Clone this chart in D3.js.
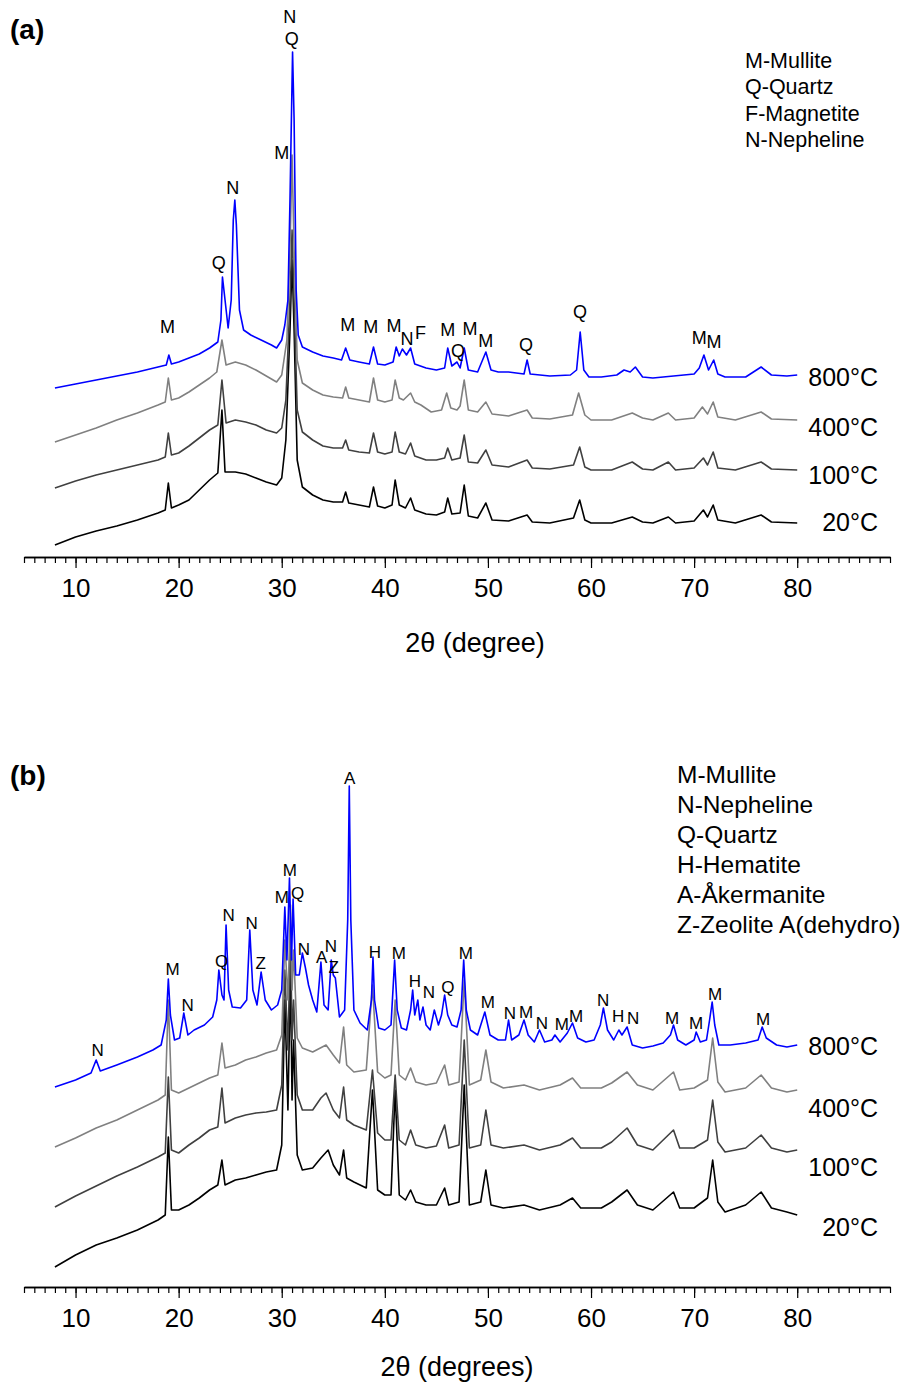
<!DOCTYPE html>
<html><head><meta charset="utf-8">
<script src="https://cdn.jsdelivr.net/npm/d3@7"></script>
<style>
body{margin:0;background:#fff}
svg{display:block}
text{font-family:"Liberation Sans",Arial,Helvetica,sans-serif;fill:#000}
</style>
</head><body>
<svg id="chart" width="906" height="1385"></svg>
<script>
// ---------------- DATA ----------------
const temperatures = ["800°C", "400°C", "100°C", "20°C"];
const seriesColors = ["#0000ff", "#808080", "#404040", "#000000"];
const xTickLabels = [10, 20, 30, 40, 50, 60, 70, 80];
const xDomain = [5, 89];

// Panel (a): [2θ, intensity a.u.]
const a800 = [[8,169],[10,173],[12,177],[14,181],[16,185],[18,190],[18.8,192],[19.05,202],[19.3,193],[20,195],[21,199],[22,203],[23,209],[23.8,215],[24.1,237],[24.25,280],[24.5,257],[24.8,229],[25.1,257],[25.3,337],[25.45,357],[25.6,332],[25.9,247],[26.3,227],[27,222],[28,217],[29,212],[29.5,209],[30,217],[30.3,232],[30.6,257],[30.8,357],[31.05,505],[31.2,437],[31.4,267],[31.6,222],[32,210],[33,205],[34,201],[35,199],[35.8,197],[36.2,209],[36.6,197],[37.5,195],[38.5,193],[38.9,210],[39.3,193],[40,192],[40.8,195],[41.1,210],[41.4,201],[41.7,208],[42.1,202],[42.5,209],[42.9,193],[44,189],[45,187],[45.8,189],[46.1,209],[46.5,191],[47,195],[47.3,189],[47.7,209],[48.1,187],[49,185],[49.8,205],[50.3,187],[51,185],[52,185],[53.5,183],[53.8,197],[54.1,183],[56,181],[58,182],[58.6,187],[58.95,225],[59.3,187],[59.8,180],[61,180],[62.5,182],[63.2,187],[63.8,185],[64.3,190],[65,180],[66,179],[68,181],[70,183],[70.5,189],[70.95,202],[71.4,187],[71.9,197],[72.3,183],[73,180],[75,180],[76.5,190],[77.5,182],[79,181],[80,182]];
const a400 = [[8,115],[10,122],[12,129],[14,137],[16,144],[18,152],[18.7,155],[19.0,179],[19.3,157],[20,159],[21,165],[22,172],[23,179],[23.7,185],[24.2,217],[24.6,192],[25.5,195],[26.5,192],[27.5,187],[28.5,181],[29.5,175],[30,182],[30.5,217],[30.8,307],[31.0,402],[31.2,307],[31.5,197],[32,174],[33,167],[34,162],[35,160],[35.9,159],[36.2,170],[36.5,159],[37.5,157],[38.5,155],[38.9,179],[39.3,157],[40,155],[40.7,157],[41.0,177],[41.4,159],[41.8,157],[42.5,164],[42.9,155],[43.5,152],[44.5,145],[45.5,147],[46,164],[46.4,149],[47,147],[47.3,151],[47.7,177],[48.1,147],[49,145],[49.8,155],[50.4,143],[52,141],[53.8,147],[54.3,139],[56,138],[58.2,142],[58.8,164],[59.4,142],[60,137],[62,137],[64,144],[65,139],[66,137],[67.5,144],[68.2,137],[70,139],[70.8,150],[71.3,143],[71.85,155],[72.3,140],[74,137],[76.5,145],[77.5,138],[80,137]];
const a100 = [[8,69],[10,76],[12,82],[14,87],[16,92],[18,97],[18.7,100],[19.0,124],[19.3,102],[20,104],[21,111],[22,119],[23,127],[23.8,132],[24.2,177],[24.6,134],[25.5,137],[26.5,135],[27.5,132],[28.5,127],[29.5,124],[30,129],[30.4,157],[30.8,257],[31.0,327],[31.2,257],[31.5,147],[32,125],[33,117],[34,111],[35,109],[35.9,109],[36.2,117],[36.5,107],[37.5,105],[38.5,104],[38.9,124],[39.3,105],[40,103],[40.7,105],[41.0,125],[41.4,105],[42,103],[42.5,114],[42.9,101],[44,97],[45,97],[45.8,99],[46.1,109],[46.5,97],[47.3,99],[47.7,122],[48.1,95],[49,94],[49.8,107],[50.4,92],[52,90],[53.8,97],[54.3,89],[56,88],[58.3,92],[58.9,110],[59.4,90],[60,87],[62,87],[64,95],[65,88],[66,87],[67.5,95],[68.2,87],[70,89],[70.9,99],[71.3,92],[71.85,105],[72.3,89],[74,87],[76.5,95],[77.5,88],[80,87]];
const a20 = [[8,12],[10,20],[12,26],[14,31],[16,37],[18,44],[18.7,47],[19.0,74],[19.3,49],[20,52],[21,57],[22,67],[23,77],[23.8,84],[24.2,147],[24.5,85],[25.5,85],[26.5,83],[27.5,79],[28.5,75],[29.5,72],[30,79],[30.4,117],[30.8,227],[31.0,297],[31.2,227],[31.5,97],[32,70],[33,62],[34,57],[35,55],[35.9,55],[36.2,65],[36.5,54],[37.5,52],[38.5,50],[38.9,70],[39.3,51],[40,49],[40.7,52],[41.0,77],[41.4,52],[42,49],[42.5,59],[42.9,47],[44,43],[45,42],[45.8,45],[46.1,59],[46.5,43],[47.3,44],[47.7,72],[48.1,41],[49,39],[49.8,54],[50.4,37],[52,36],[53.8,42],[54.3,35],[56,34],[58.3,39],[58.9,57],[59.4,37],[60,34],[62,34],[64,40],[65,35],[66,34],[67.5,40],[68.2,34],[70,36],[70.9,47],[71.3,40],[71.85,52],[72.3,37],[74,34],[76.5,42],[77.5,35],[80,34]];

// Panel (a) phase labels: [letter, 2θ, intensity]
const aPeakLabels = [["M",18.93,230],["Q",23.88,294],["N",25.24,369],["M",30.0,404],["N",30.78,540],["Q",30.97,518],["M",36.4,232],["M",38.64,230],["M",40.9,231],["N",42.15,218],["F",43.45,224],["M",46.1,227],["Q",47.09,206],["M",48.25,228],["M",49.8,216],["Q",53.69,212],["Q",58.93,245],["M",70.49,219],["M",71.94,215]];
const aLegend = ["M-Mullite", "Q-Quartz", "F-Magnetite", "N-Nepheline"];
const aTempLevels = [180, 130, 82, 35];

// Panel (b)
const b800 = [[8,213],[10,220],[11.5,227],[12,240],[12.4,229],[14,235],[16,243],[17.5,250],[18.3,255],[18.8,280],[19.0,321],[19.2,285],[19.6,260],[20.1,262],[20.5,287],[20.9,265],[21.5,270],[22.5,275],[23.3,283],[23.7,300],[23.9,330],[24.2,305],[24.4,300],[24.6,375],[24.85,310],[25.2,293],[26,292],[26.6,300],[26.9,370],[27.2,310],[27.6,295],[28.0,328],[28.4,300],[29,290],[29.6,295],[30.0,310],[30.3,393],[30.5,340],[30.75,422],[30.95,340],[31.1,401],[31.35,325],[31.7,325],[32.0,347],[32.3,332],[32.6,315],[33.0,300],[33.4,288],[33.8,338],[34.1,295],[34.5,290],[34.8,340],[35.0,325],[35.2,322],[35.6,283],[36.1,290],[36.4,380],[36.55,514],[36.7,380],[37.0,290],[37.6,277],[38.3,270],[38.7,300],[38.85,343],[39.0,300],[39.4,272],[40,270],[40.6,275],[40.95,340],[41.2,290],[41.6,272],[42.1,270],[42.5,290],[42.7,310],[42.9,285],[43.2,300],[43.4,280],[43.7,293],[44.0,275],[44.4,270],[44.8,290],[45.2,275],[45.5,285],[45.8,305],[46.1,285],[46.5,275],[47.0,273],[47.4,290],[47.65,340],[47.9,290],[48.3,270],[49,265],[49.7,288],[50.2,265],[51,260],[51.7,260],[52.0,280],[52.3,260],[53,265],[53.5,280],[53.9,265],[54.5,258],[55.0,270],[55.5,258],[56.2,260],[56.5,265],[57,258],[57.7,267],[58.2,277],[58.7,262],[59.5,258],[60.3,260],[60.9,275],[61.2,292],[61.6,270],[62.2,260],[62.7,270],[63.0,265],[63.5,273],[64.0,255],[65,252],[66,254],[67,257],[67.7,265],[68.0,275],[68.4,260],[69.2,255],[70.0,260],[70.2,268],[70.6,258],[71.2,260],[71.5,280],[71.75,298],[72.0,275],[72.4,255],[73.5,255],[75,257],[76.2,260],[76.6,273],[77.0,262],[78,255],[79,253],[80,255]];
const b400 = [[8,153],[10,162],[12,172],[14,180],[16,190],[18,200],[18.7,205],[19.0,300],[19.3,210],[20,207],[21,212],[22,217],[23,222],[23.8,225],[24.2,257],[24.5,232],[25.5,235],[26.5,240],[27.5,243],[28.5,247],[29.5,250],[30.0,265],[30.3,360],[30.6,300],[30.85,395],[31.0,310],[31.15,350],[31.5,262],[32,252],[33,248],[34.3,255],[35,245],[35.6,237],[36.0,273],[36.3,235],[37,228],[38.2,230],[38.8,315],[39.3,228],[40,222],[40.6,225],[41.0,300],[41.4,225],[42,220],[42.5,232],[43,218],[44,215],[45,217],[45.8,235],[46.2,215],[47.2,218],[47.7,320],[48.2,215],[49.3,220],[49.8,250],[50.3,218],[51.5,212],[53.5,215],[55,210],[57,215],[58.2,222],[59,212],[61,212],[62,217],[63.5,228],[64.5,215],[66,210],[68.0,228],[68.6,210],[70,212],[71.3,220],[71.8,262],[72.3,218],[73,208],[75,212],[76.5,225],[77.5,212],[79,208],[80,210]];
const b100 = [[8,93],[10,104],[12,114],[14,124],[16,133],[18,143],[18.7,147],[19.0,223],[19.3,150],[20,147],[21,155],[22,162],[23,170],[23.8,173],[24.2,212],[24.5,177],[25.5,182],[26.5,185],[27.5,187],[28.5,188],[29.5,190],[30.0,215],[30.3,330],[30.6,250],[30.85,370],[31.0,260],[31.15,300],[31.5,205],[32,190],[33,190],[33.8,202],[34.3,207],[35,190],[35.6,182],[36.0,213],[36.3,180],[37,175],[38.2,170],[38.8,230],[39.3,167],[40,160],[40.6,160],[41.0,225],[41.4,160],[42,155],[42.5,170],[43,155],[44,152],[45,154],[45.8,175],[46.2,152],[47.2,155],[47.7,260],[48.2,152],[49.3,155],[49.8,190],[50.3,155],[51.5,152],[53.5,155],[55,150],[57,155],[58.2,162],[59,152],[61,152],[62,158],[63.5,172],[64.5,155],[66,150],[68.0,170],[68.6,152],[70,152],[71.3,160],[71.8,200],[72.3,158],[73,148],[75,152],[76.5,165],[77.5,152],[79,148],[80,150]];
const b20 = [[8,33],[10,45],[12,55],[14,62],[16,70],[18,80],[18.7,85],[19.0,163],[19.3,90],[20,90],[21,95],[22,102],[23,110],[23.8,115],[24.2,140],[24.5,115],[25.5,120],[26.5,122],[27.5,125],[28.5,128],[29.5,130],[30.0,155],[30.3,300],[30.6,190],[30.85,330],[31.0,200],[31.15,260],[31.5,145],[32,130],[33,132],[33.8,142],[34.5,150],[35,135],[35.6,125],[36.0,150],[36.3,122],[37,118],[38.2,112],[38.8,210],[39.3,110],[40,105],[40.6,105],[41.0,210],[41.4,105],[42,100],[42.5,110],[43,98],[44,95],[45,95],[45.8,112],[46.2,95],[47.2,98],[47.7,215],[48.2,95],[49.3,98],[49.8,130],[50.3,95],[51.5,92],[53.5,95],[55,90],[57,95],[58.2,102],[59,92],[61,92],[62,98],[63.5,110],[64.5,95],[66,90],[68.0,108],[68.6,92],[70,92],[71.3,102],[71.8,140],[72.3,98],[73,88],[75,95],[76.5,108],[77.5,92],[79,88],[80,85]];

const bPeakLabels = [["N",12.14,250],["M",19.42,331],["N",20.87,295],["Q",24.17,339],["N",24.85,385],["N",27.09,377],["Z",27.96,337],["M",30.0,403],["M",30.78,430],["Q",31.55,407],["N",32.14,351],["A",33.88,343],["N",34.76,354],["Z",35.05,333],["A",36.6,522],["H",39.03,348],["M",41.36,347],["H",42.91,319],["N",44.27,308],["Q",46.12,313],["M",47.86,347],["M",50.0,298],["N",52.14,287],["M",53.69,288],["N",55.24,277],["M",57.18,276],["M",58.54,284],["N",61.17,300],["H",62.62,284],["N",64.08,282],["M",67.86,282],["M",70.19,277],["M",72.04,306],["M",76.7,281]];
const bLegend = ["M-Mullite", "N-Nepheline", "Q-Quartz", "H-Hematite", "A-Åkermanite", "Z-Zeolite A(dehydro)"];
const bTempLevels = [254, 192, 133, 73];

// ---------------- DRAW ----------------
const svg = d3.select("#chart");
const x = d3.scaleLinear().domain(xDomain).range([24, 890]);

function drawPanel(cfg) {
  const g = svg.append("g");
  const y = d3.scaleLinear().domain([0, 600]).range([cfg.zeroY, cfg.zeroY - 600]);
  const line = d3.line().x(d => x(d[0])).y(d => y(d[1]));

  // curves: draw bottom (20°C) first, blue on top
  cfg.series.map((s, i) => ({s, i})).reverse().forEach(({s, i}) => {
    g.append("path").datum(s)
      .attr("d", line)
      .attr("fill", "none")
      .attr("stroke", seriesColors[i])
      .attr("stroke-width", 1.6)
      .attr("stroke-linejoin", "round");
  });

  // peak letters
  g.selectAll("text.pk").data(cfg.peaks).join("text")
    .attr("class", "pk")
    .attr("x", d => x(d[1])).attr("y", d => y(d[2]))
    .attr("dy", "0.36em")
    .attr("text-anchor", "middle")
    .attr("font-size", cfg.peakFont)
    .text(d => d[0]);

  // temperature labels
  g.selectAll("text.tmp").data(temperatures).join("text")
    .attr("class", "tmp")
    .attr("x", 878).attr("y", (d, i) => y(cfg.tempLevels[i]))
    .attr("dy", "0.36em")
    .attr("text-anchor", "end")
    .attr("font-size", 25)
    .text(d => d);

  // legend
  g.selectAll("text.lg").data(cfg.legend).join("text")
    .attr("class", "lg")
    .attr("x", cfg.legendX).attr("y", (d, i) => cfg.legendY + i * cfg.legendStep)
    .attr("font-size", cfg.legendFont)
    .text(d => d);

  // panel tag
  g.append("text").attr("x", 10).attr("y", cfg.tagY)
    .attr("font-size", 28).attr("font-weight", "bold").text(cfg.tag);

  // axis: minor ticks each degree, major ticks with labels
  const minor = d3.axisBottom(x).tickValues(d3.range(5, 90, 1)).tickSize(6).tickSizeOuter(0).tickFormat("");
  const major = d3.axisBottom(x).tickValues(xTickLabels).tickSize(11).tickSizeOuter(0).tickPadding(11).tickFormat(d3.format("d"));
  const ga = g.append("g").attr("transform", `translate(0,${cfg.axisY})`);
  ga.append("g").call(minor);
  const gm = ga.append("g").call(major);
  ga.selectAll("path.domain").attr("stroke", "#000").attr("stroke-width", 1.4);
  ga.selectAll(".tick line").attr("stroke", "#000").attr("stroke-width", 1.2);
  gm.selectAll(".tick text").attr("font-size", 26).attr("font-family", "Liberation Sans, Arial, sans-serif").attr("fill", "#000");

  g.append("text").attr("x", cfg.titleX).attr("y", cfg.titleY)
    .attr("text-anchor", "middle").attr("font-size", 27)
    .text(cfg.title);
}

drawPanel({
  series: [a800, a400, a100, a20], peaks: aPeakLabels, tempLevels: aTempLevels,
  legend: aLegend, legendX: 745, legendY: 68, legendStep: 26.3, legendFont: 21.5,
  tag: "(a)", tagY: 39, zeroY: 557, axisY: 557, peakFont: 18,
  title: "2θ (degree)", titleX: 475, titleY: 652
});
drawPanel({
  series: [b800, b400, b100, b20], peaks: bPeakLabels, tempLevels: bTempLevels,
  legend: bLegend, legendX: 677, legendY: 783, legendStep: 30, legendFont: 24.5,
  tag: "(b)", tagY: 785, zeroY: 1300, axisY: 1287, peakFont: 17,
  title: "2θ (degrees)", titleX: 457, titleY: 1376
});
</script>
</body></html>
